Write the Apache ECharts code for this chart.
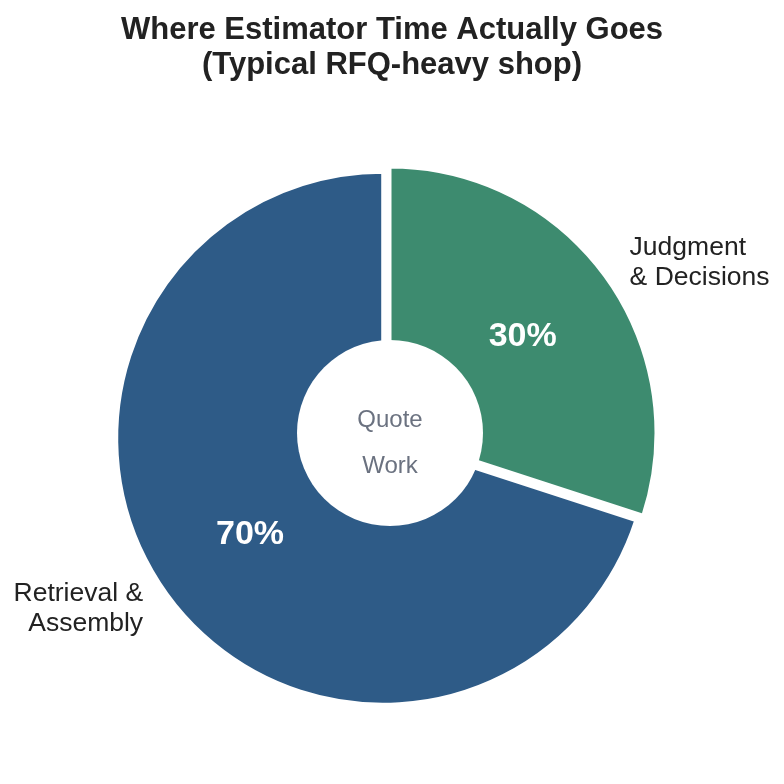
<!DOCTYPE html>
<html>
<head>
<meta charset="utf-8">
<title>Where Estimator Time Actually Goes</title>
<script src="https://cdn.jsdelivr.net/npm/echarts@6/dist/echarts.min.js"></script>
<style>
  html, body { margin: 0; padding: 0; background: #fff; }
  #chart { width: 784px; height: 784px; }
</style>
</head>
<body>
<div id="chart"></div>
<script>
  // data
  var categories = ['Judgment\n& Decisions', 'Retrieval &\nAssembly'];
  var shares = [30, 70];
  var sliceColors = ['#3D8B6F', '#2E5B87'];
  var exploded = [false, true];
  var centerLines = ['Quote', 'Work'];

  var font = '"Liberation Sans", Arial, sans-serif';
  var pieCenter = [390, 433];

  var chart = echarts.init(document.getElementById('chart'));

  function sliceData(withStyle) {
      return categories.map(function (name, i) {
          return {
              name: name,
              value: shares[i],
              selected: exploded[i],
              itemStyle: withStyle
                  ? { color: sliceColors[i], borderColor: '#fff', borderWidth: 3 }
                  : { color: 'rgba(0,0,0,0)', borderWidth: 0 }
          };
      });
  }

  var option = {
      animation: false,
      backgroundColor: '#fff',
      title: {
          text: 'Where Estimator Time Actually Goes\n(Typical RFQ-heavy shop)',
          left: 'center',
          top: 8,
          textStyle: {
              fontFamily: font,
              fontSize: 31,
              fontWeight: 'bold',
              lineHeight: 35,
              color: '#222'
          }
      },
      series: [
          {
              // slices + category labels
              type: 'pie',
              silent: true,
              z: 2,
              center: pieCenter,
              radius: [0, 266],
              startAngle: 90,
              clockwise: true,
              avoidLabelOverlap: false,
              selectedMode: 'single',
              selectedOffset: 9,
              label: {
                  show: true,
                  position: 'outside',
                  formatter: '{b}',
                  fontFamily: font,
                  fontSize: 26.5,
                  lineHeight: 30,
                  color: '#222',
                  distanceToLabelLine: 5
              },
              labelLine: { show: false, length: 24, length2: 0 },
              data: sliceData(true)
          },
          {
              // percentage labels
              type: 'pie',
              silent: true,
              z: 3,
              center: pieCenter,
              radius: [56, 266],
              startAngle: 90,
              clockwise: true,
              avoidLabelOverlap: false,
              selectedMode: 'single',
              selectedOffset: 9,
              label: {
                  show: true,
                  position: 'inside',
                  formatter: '{c}%',
                  fontFamily: font,
                  fontSize: 34,
                  fontWeight: 'bold',
                  color: '#fff'
              },
              labelLine: { show: false },
              data: sliceData(false)
          },
          {
              // donut hole
              type: 'pie',
              silent: true,
              z: 10,
              center: pieCenter,
              radius: [0, 93],
              label: {
                  show: true,
                  position: 'center',
                  formatter: centerLines.join('\n'),
                  fontFamily: font,
                  fontSize: 24,
                  lineHeight: 46,
                  color: '#6B7280',
                  offset: [0, 10]
              },
              labelLine: { show: false },
              itemStyle: { color: '#fff' },
              data: [{ name: 'hole', value: 1 }]
          }
      ]
  };

  chart.setOption(option);
</script>
</body>
</html>
